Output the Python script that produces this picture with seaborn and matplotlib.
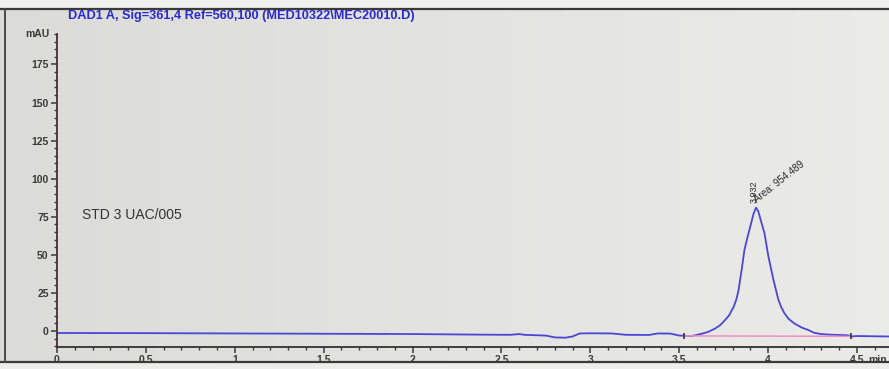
import numpy as np
import pandas as pd
import matplotlib
matplotlib.use("Agg")
import matplotlib.pyplot as plt
from matplotlib.lines import Line2D
from matplotlib.patches import Rectangle
from matplotlib.ticker import MultipleLocator, FixedLocator
import seaborn as sns

# Detector trace (retention time in min, absorbance in mAU)
time_min = [0.00, 0.50, 1.00, 1.50, 2.00, 2.40, 2.55, 2.60, 2.63, 2.75, 2.80,
            2.86, 2.90, 2.94, 3.00, 3.12, 3.20, 3.33, 3.38, 3.45, 3.50, 3.53,
            3.57, 3.62, 3.66, 3.70, 3.73, 3.755, 3.78, 3.806, 3.822, 3.834,
            3.851, 3.867, 3.885, 3.905, 3.918, 3.932, 3.945, 3.958, 3.979,
            4.002, 4.030, 4.058, 4.075, 4.091, 4.115, 4.147, 4.190, 4.225,
            4.260, 4.298, 4.35, 4.45, 4.466, 4.50, 4.68]
signal_mau = [-1.3, -1.4, -1.6, -1.8, -2.0, -2.4, -2.5, -2.0, -2.5, -3.0, -4.2,
              -4.4, -3.6, -1.6, -1.5, -1.6, -2.5, -2.6, -1.6, -1.7, -3.0, -3.1,
              -3.3, -2.0, -0.7, 1.5, 3.8, 6.8, 10.2, 15.8, 21.0, 27.0,
              40.1, 53.3, 62.0, 71.0, 77.0, 81.0, 78.5, 73.0, 64.5,
              48.7, 33.6, 20.4, 15.4, 11.8, 8.0, 5.0, 2.2, 0.7,
              -1.2, -2.0, -2.4, -2.8, -3.6, -3.3, -3.6]

# Integration baseline under the main peak
baseline_t = [3.526, 4.466]
baseline_y = [-3.2, -3.5]

# Integration event marks on the trace
event_t = [3.526, 4.466]
event_y = [-3.1, -3.6]

peak_rt = "3.932"
peak_area = "Area: 954.489"
sample_name = "STD 3 UAC/005"
signal_title = "DAD1 A, Sig=361,4 Ref=560,100 (MED10322\\MEC20010.D)"

x_ticks = [0, 0.5, 1, 1.5, 2, 2.5, 3, 3.5, 4, 4.5]
x_tick_labels = ["0", "0.5", "1", "1.5", "2", "2.5", "3", "3.5", "4", "4.5"]
y_ticks = [0, 25, 50, 75, 100, 125, 150, 175]

sns.set_theme(style="white")
plt.rcParams["font.family"] = ["Liberation Sans", "DejaVu Sans"]

W, H = 889, 369
fig = plt.figure(figsize=(W / 100, H / 100), dpi=100)
fig.patch.set_facecolor("#e4e4e1")

# soft screen shading behind the whole display
bg = fig.add_axes([0, 0, 1, 1], zorder=-5)
grad = np.linspace(0, 1, 256)[None, :]
shade = np.stack([0.86 + 0.06 * grad, 0.86 + 0.06 * grad, 0.85 + 0.06 * grad], axis=-1)
bg.imshow(np.repeat(shade, 4, axis=0), aspect="auto", extent=[0, 1, 0, 1])
bg.set_axis_off()

# window frame lines and the lighter strips outside it
fig.add_artist(Rectangle((0, 1 - 8 / H), 1, 8 / H, transform=fig.transFigure,
                         facecolor="#f0f0ee", edgecolor="none", zorder=-4))
fig.add_artist(Rectangle((0, 0), 1, 7 / H, transform=fig.transFigure,
                         facecolor="#ededeb", edgecolor="none", zorder=-4))
fig.add_artist(Line2D([0, 1], [1 - 8.5 / H, 1 - 8.5 / H], transform=fig.transFigure,
                      color="#3a3a3a", lw=1.6))
fig.add_artist(Line2D([0, 1], [7 / H, 7 / H], transform=fig.transFigure,
                      color="#3a3a3a", lw=1.6))
fig.add_artist(Line2D([5 / W, 5 / W], [7 / H, 1 - 8.5 / H], transform=fig.transFigure,
                      color="#4a4a4a", lw=1.4))

ax = fig.add_axes([57 / W, 22 / H, (W - 57) / W, 313 / H])
ax.set_facecolor("none")

trace = pd.DataFrame({"t": time_min, "mAU": signal_mau})
sns.lineplot(data=trace, x="t", y="mAU", ax=ax, color="#4b46d6", lw=1.3,
             sort=False, estimator=None)
sns.lineplot(x=baseline_t, y=baseline_y, ax=ax, color="#ef8fc3", lw=1.1,
             sort=False, estimator=None)
ax.scatter(event_t, event_y, marker="|", s=14, color="#333333", linewidths=1.2, zorder=4)

ax.set_xlim(0, 4.68)
ax.set_ylim(-10.5, 195)

ax.xaxis.set_major_locator(FixedLocator(x_ticks))
ax.set_xticklabels(x_tick_labels)
ax.xaxis.set_minor_locator(MultipleLocator(0.1))
ax.yaxis.set_major_locator(FixedLocator(y_ticks))
ax.yaxis.set_minor_locator(MultipleLocator(5))

ax.tick_params(axis="both", which="major", direction="out", length=4.5, width=1.1,
               color="#3a3a3a", labelsize=7.5, labelcolor="#3a3a3a", pad=1.5)
ax.tick_params(axis="both", which="minor", direction="out", length=2.2, width=1.0,
               color="#3a3a3a")
ax.tick_params(bottom=True, left=True, which="both")
for lab in ax.get_xticklabels() + ax.get_yticklabels():
    lab.set_fontweight("bold")

for side in ("top", "right"):
    ax.spines[side].set_visible(False)
ax.spines["left"].set_color("#4a2e2e")
ax.spines["left"].set_linewidth(1.3)
ax.spines["bottom"].set_color("#333333")
ax.spines["bottom"].set_linewidth(1.3)
ax.set_xlabel("")
ax.set_ylabel("")

# axis unit labels
fig.text(50 / W, 1 - 34 / H, "mAU", ha="right", va="center", fontsize=7.5,
         fontweight="bold", color="#3a3a3a")
ax.text(0.997, -0.027, "min", transform=ax.transAxes,
        ha="right", va="top", fontsize=7.5, fontweight="bold", color="#3a3a3a", clip_on=False)

# header and sample name
fig.text(68 / W, 1 - 16 / H, signal_title, ha="left", va="center", fontsize=9.2,
         fontweight="bold", color="#2a2ad0")
ax.text(0.14, 76, sample_name, ha="left", va="center", fontsize=10, color="#333333")

# peak annotations
ax.text(3.924, 84, peak_rt, rotation=90, ha="center", va="bottom", fontsize=6.5,
        color="#2a2a2a")
ax.text(3.945, 83, peak_area, rotation=38, rotation_mode="anchor", ha="left",
        va="bottom", fontsize=7, color="#2a2a2a")

fig.savefig("out.png", dpi=100, facecolor=fig.get_facecolor())
